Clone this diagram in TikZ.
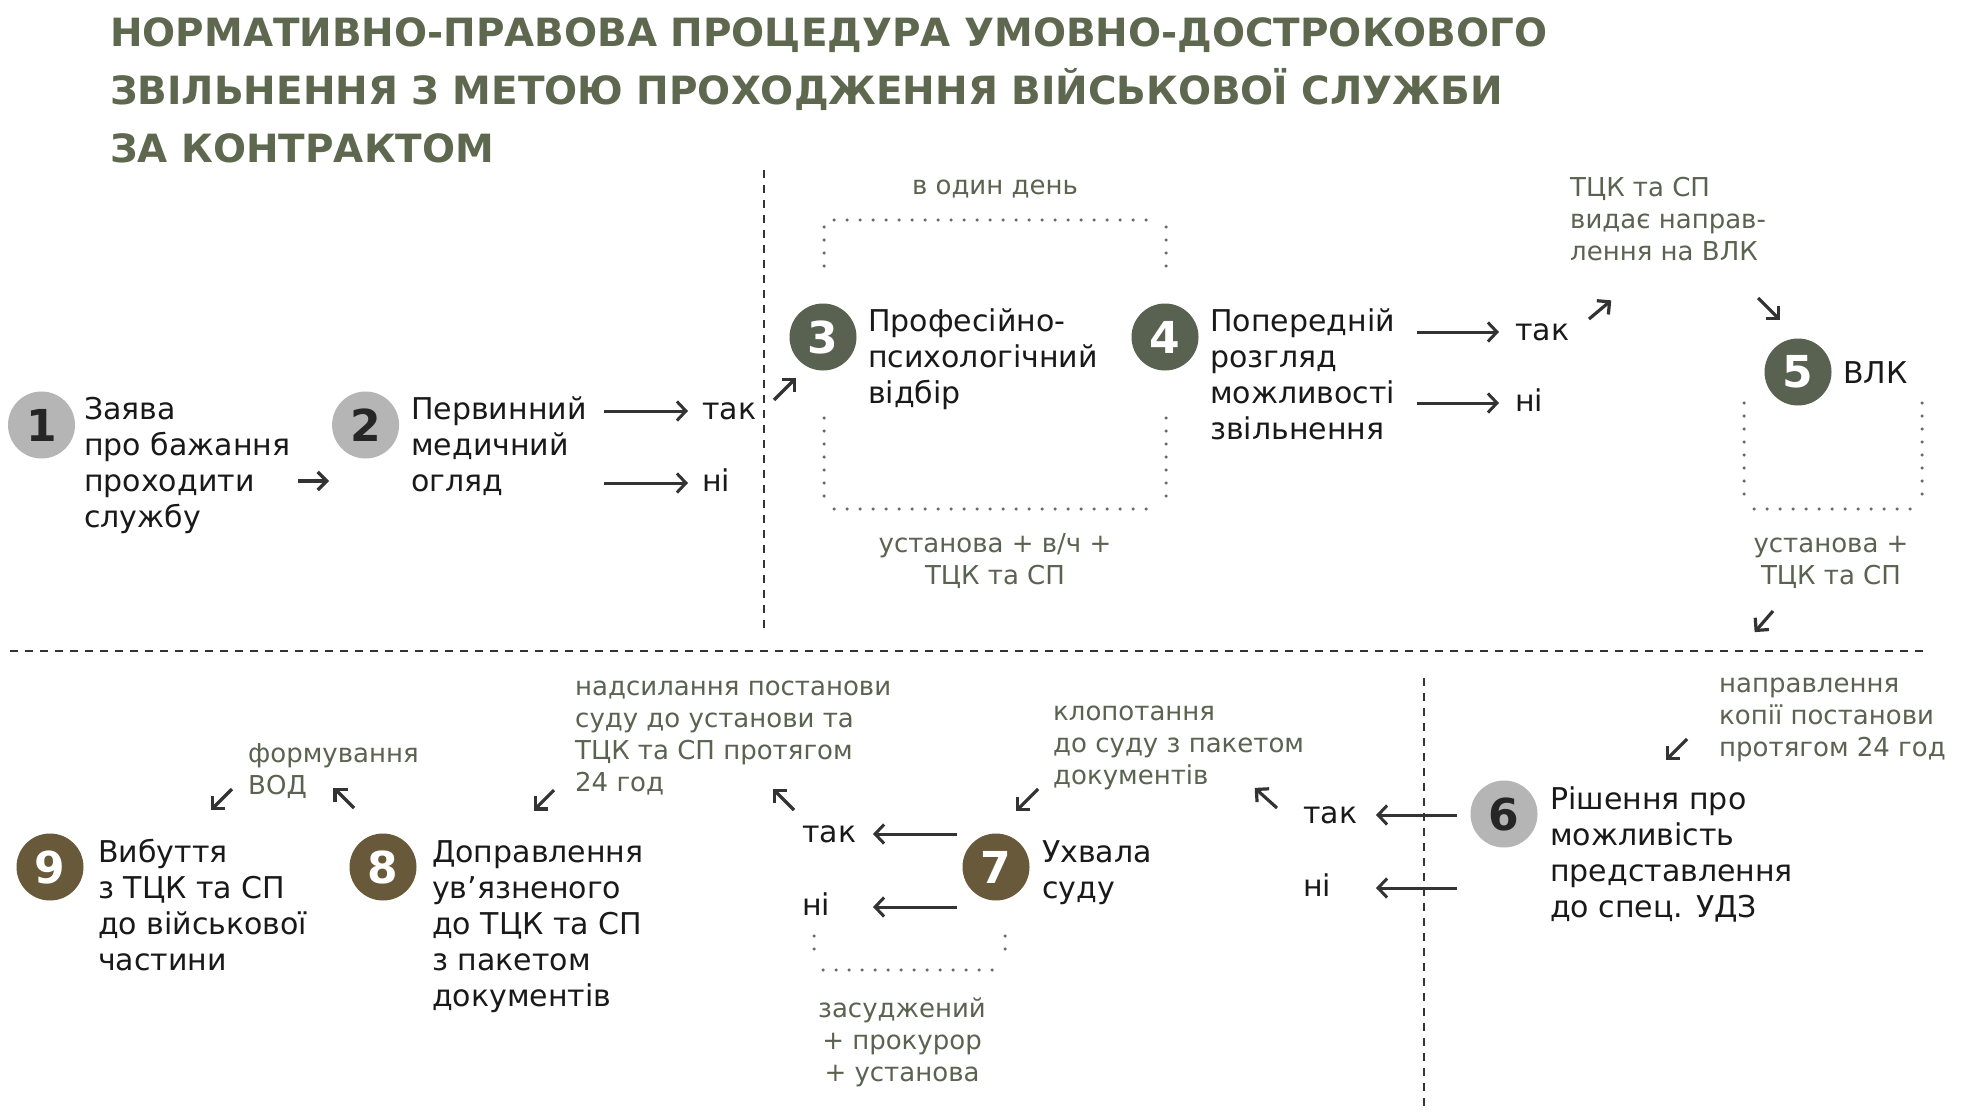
\documentclass[tikz,border=0pt]{standalone}
\usepackage{fontspec}
\setmainfont{DejaVu Sans}
\usepackage{tikz}
\usetikzlibrary{arrows.meta}

\definecolor{olivetitle}{HTML}{5D684F}
\definecolor{olivenote}{HTML}{5A6350}
\definecolor{olivestep}{HTML}{596150}
\definecolor{brownstep}{HTML}{67593A}
\definecolor{graystep}{HTML}{B5B5B5}
\definecolor{inkgray}{HTML}{333333}
\definecolor{dotgray}{HTML}{6A6A6A}

\tikzset{
    stepnum/.style = {circle, inner sep = 0pt, minimum size = 67pt, font = \fontsize{44}{44}\selectfont\bfseries},
    stepgray/.style = {stepnum, fill = graystep, text = black!85},
    stepolive/.style = {stepnum, fill = olivestep, text = white},
    stepbrown/.style = {stepnum, fill = brownstep, text = white},
    body/.style = {anchor = base west, align = left, inner sep = 0pt, font = \fontsize{30}{36}\selectfont, text = black!90},
    answer/.style = {anchor = base west, inner sep = 0pt, text height = 16pt, text depth = 0pt, font = \fontsize{30}{36}\selectfont, text = black!90},
    note/.style = {inner sep = 0pt, font = \fontsize{26}{32}\selectfont, text = olivenote},
    flow/.style = {line width = 3pt, draw = inkgray, -{Straight Barb[length = 9pt, width = 19pt]}},
    tick/.style = {flow, line width = 3.2pt, -{Straight Barb[length = 9pt, width = 18pt]}},
    dots/.style = {line width = 3.5pt, draw = dotgray, line cap = round, dash pattern = on 0pt off 13pt},
    divider/.style = {line width = 2pt, draw = inkgray, dash pattern = on 8pt off 7pt}
}

\begin{document}
\begin{tikzpicture}[x = 1pt, y = -1pt]

    \useasboundingbox (0, 0) rectangle (1970, 1118);
    \fill [white] (0, 0) rectangle (1970, 1118);

    \node[anchor = base west, align = left, inner sep = 0pt, text = olivetitle, font = \fontsize{38.9}{58}\selectfont\bfseries] (title) at (110, 163) {НОРМАТИВНО-ПРАВОВА ПРОЦЕДУРА УМОВНО-ДОСТРОКОВОГО\\ЗВІЛЬНЕННЯ З МЕТОЮ ПРОХОДЖЕННЯ ВІЙСЬКОВОЇ СЛУЖБИ\\ЗА КОНТРАКТОМ};

    \draw [divider] (764, 170) -- (764, 632);
    \draw [divider] (10, 651) -- (1925, 651);
    \draw [divider] (1424, 678) -- (1424, 1112);

    \node[stepgray] (c1) at (41.5, 425) {1};
    \node[body] (t1) at (84, 527) {Заява\\про бажання\\проходити\\службу};
    \coordinate (k12) at (298, 481);
    \draw [tick] (k12) -- ++(0:31pt);

    \node[stepgray] (c2) at (365.6, 425) {2};
    \node[body] (t2) at (411, 491) {Первинний\\медичний\\огляд};
    \node[answer] (yes2) at (702, 419) {так};
    \node[answer] (no2) at (702, 491) {ні};
    \draw [flow] ([xshift = -98pt]yes2.west) -- ([xshift = -14pt]yes2.west);
    \draw [flow] ([xshift = -98pt]no2.west) -- ([xshift = -14pt]no2.west);
    \coordinate (k23) at (774, 400);
    \draw [tick] (k23) -- ++(45:31pt);

    \node[note, anchor = base] (day) at (995, 194.5) {в один день};
    \draw [dots] (834, 220) -- (1156, 220);
    \draw [dots] (824, 227) -- (824, 274);
    \draw [dots] (824, 418) -- (824, 500);
    \draw [dots] (1166, 227) -- (1166, 274);
    \draw [dots] (1166, 418) -- (1166, 500);
    \draw [dots] (834, 509) -- (1156, 509);
    \node[note, anchor = base, align = center] (who34) at (995, 584.5) {установа + в/ч +\\ТЦК та СП};

    \node[stepolive] (c3) at (823, 337) {3};
    \node[body] (t3) at (868, 403) {Професійно-\\психологічний\\відбір};

    \node[stepolive] (c4) at (1165, 337) {4};
    \node[body] (t4) at (1210, 439) {Попередній\\розгляд\\можливості\\звільнення};
    \node[answer] (yes4) at (1515, 340) {так};
    \node[answer] (no4) at (1515, 411) {ні};
    \draw [flow] ([xshift = -98pt]yes4.west) -- ([xshift = -16pt]yes4.west);
    \draw [flow] ([xshift = -98pt]no4.west) -- ([xshift = -16pt]no4.west);
    \coordinate (k4a) at (1589, 319);
    \draw [tick] (k4a) -- ++(40:29pt);
    \node[note, anchor = base west, align = left] (send5) at (1570, 260.5) {ТЦК та СП\\видає направ-\\лення на ВЛК};
    \coordinate (k4b) at (1758, 298);
    \draw [tick] (k4b) -- ++(-45:31pt);

    \node[stepolive] (c5) at (1798, 372) {5};
    \node[body] (t5) at (1843, 383) {ВЛК};
    \draw [dots] (1744, 403) -- (1744, 503);
    \draw [dots] (1922, 403) -- (1922, 503);
    \draw [dots] (1754, 509) -- (1916, 509);
    \node[note, anchor = base, align = center] (who5) at (1831, 584.5) {установа +\\ТЦК та СП};
    \coordinate (k56) at (1773, 611);
    \draw [tick] (k56) -- ++(229:28pt);

    \node[note, anchor = base west, align = left] (copy6) at (1719, 756.5) {направлення\\копії постанови\\протягом 24 год};
    \coordinate (k6a) at (1687, 739);
    \draw [tick] (k6a) -- ++(225:30pt);
    \node[stepgray] (c6) at (1504, 814) {6};
    \node[body] (t6) at (1550, 917) {Рішення про\\можливість\\представлення\\до спец. УДЗ};
    \node[answer] (yes6) at (1303, 823) {так};
    \node[answer] (no6) at (1303, 896) {ні};
    \draw [flow] ([xshift = 154pt]yes6.west) -- ([xshift = 73pt]yes6.west);
    \draw [flow] ([xshift = 154pt]no6.west) -- ([xshift = 73pt]no6.west);
    \coordinate (k6b) at (1277, 808);
    \draw [tick] (k6b) -- ++(138:30pt);

    \node[note, anchor = base west, align = left] (plea7) at (1053, 784.5) {клопотання\\до суду з пакетом\\документів};
    \coordinate (k7a) at (1038, 789);
    \draw [tick] (k7a) -- ++(225:31pt);
    \node[stepbrown] (c7) at (996, 867) {7};
    \node[body] (t7) at (1042, 898) {Ухвала\\суду};
    \node[answer] (yes7) at (802, 842) {так};
    \node[answer] (no7) at (802, 915) {ні};
    \draw [flow] ([xshift = 155pt]yes7.west) -- ([xshift = 71pt]yes7.west);
    \draw [flow] ([xshift = 155pt]no7.west) -- ([xshift = 71pt]no7.west);
    \draw [dots] (814, 936) -- (814, 961);
    \draw [dots] (1005, 936) -- (1005, 961);
    \draw [dots] (823, 970) -- (996, 970);
    \node[note, anchor = base, align = center] (who7) at (902, 1081.5) {засуджений\\+ прокурор\\+ установа};
    \coordinate (k7b) at (794, 810);
    \draw [tick] (k7b) -- ++(135:30pt);

    \node[note, anchor = base west, align = left] (post8) at (575, 791.5) {надсилання постанови\\суду до установи та\\ТЦК та СП протягом\\24 год};
    \coordinate (k8a) at (554, 790);
    \draw [tick] (k8a) -- ++(225:29pt);
    \node[stepbrown] (c8) at (383, 867) {8};
    \node[body] (t8) at (432, 1006) {Доправлення\\ув’язненого\\до ТЦК та СП\\з пакетом\\документів};
    \coordinate (k8b) at (354, 808);
    \draw [tick] (k8b) -- ++(135:29pt);

    \node[note, anchor = base west, align = left] (vod9) at (248, 794.5) {формування\\ВОД};
    \coordinate (k9) at (232, 789);
    \draw [tick] (k9) -- ++(225:30pt);
    \node[stepbrown] (c9) at (50, 867) {9};
    \node[body] (t9) at (98, 970) {Вибуття\\з ТЦК та СП\\до військової\\частини};

\end{tikzpicture}
\end{document}
